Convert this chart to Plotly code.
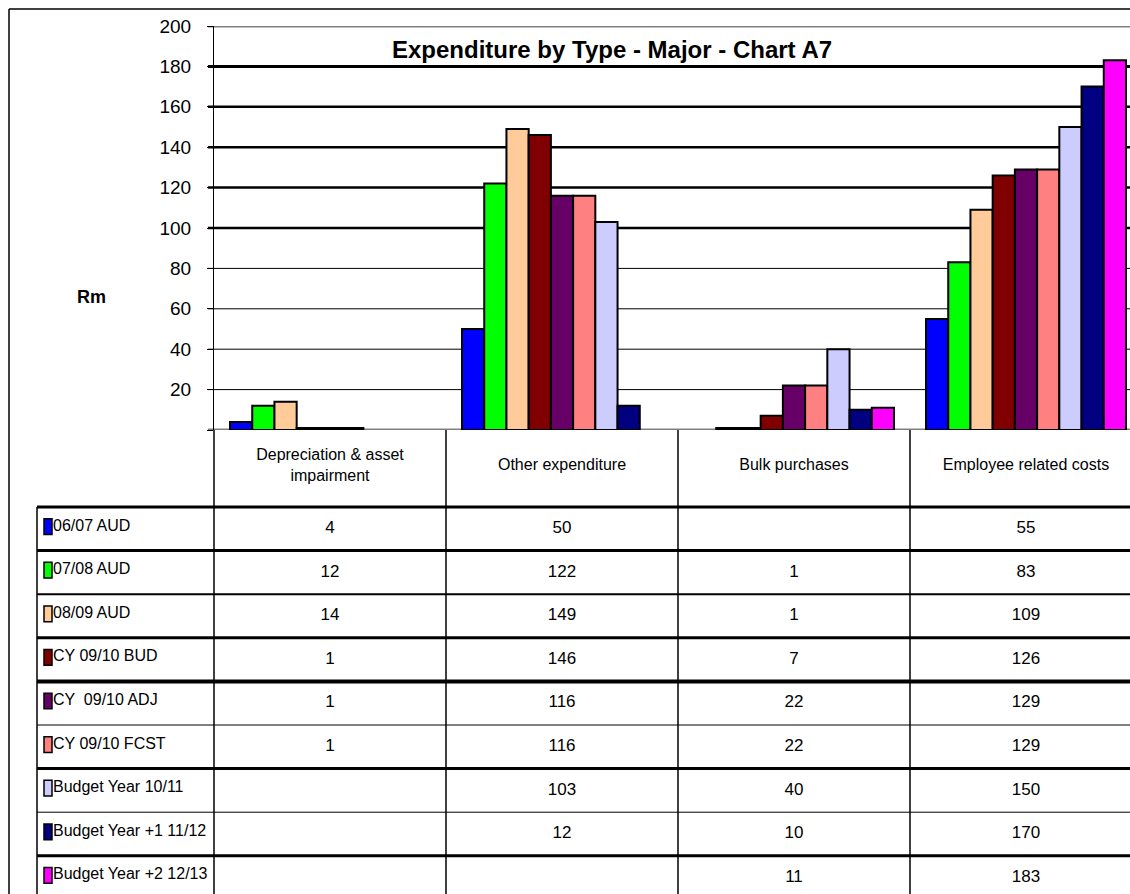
import plotly.graph_objects as go

# ---- data -------------------------------------------------------------
categories = ["Depreciation & asset impairment", "Other expenditure",
              "Bulk purchases", "Employee related costs"]
header_labels = ["Depreciation & asset<br>impairment", "Other expenditure",
                 "Bulk purchases", "Employee related costs"]
series_names = ["06/07 AUD", "07/08 AUD", "08/09 AUD", "CY 09/10 BUD",
                "CY  09/10 ADJ", "CY 09/10 FCST", "Budget Year 10/11",
                "Budget Year +1 11/12", "Budget Year +2 12/13"]

aud_0607 = [4, 50, None, 55]
aud_0708 = [12, 122, 1, 83]
aud_0809 = [14, 149, 1, 109]
bud_0910 = [1, 146, 7, 126]
adj_0910 = [1, 116, 22, 129]
fcst_0910 = [1, 116, 22, 129]
budget_1011 = [None, 103, 40, 150]
budget_1112 = [None, 12, 10, 170]
budget_1213 = [None, None, 11, 183]

series_values = [aud_0607, aud_0708, aud_0809, bud_0910, adj_0910,
                 fcst_0910, budget_1011, budget_1112, budget_1213]

y_tick_values = [0, 20, 40, 60, 80, 100, 120, 140, 160, 180, 200]
y_tick_labels = ["", "20", "40", "60", "80", "100", "120", "140", "160", "180", "200"]

title_text = "Expenditure by Type - Major - Chart A7"
axis_unit = "Rm"

# ---- styling ----------------------------------------------------------
W, H = 1130, 894
FONT = "Liberation Sans, Arial, sans-serif"
colors = ["#0000FF", "#00FF00", "#FFCC99", "#800000", "#660066",
          "#FF8080", "#CCCCFF", "#000080", "#FF00FF"]


def fx(px):
    return px / W


def fy(py):
    return 1 - py / H


# plot area: left edge 214px, top (200) at 26px, baseline at 430px
PLOT_LEFT, PLOT_TOP, PLOT_BOTTOM = 214, 26, 430
CAT_W = 232.0                        # pixels per category
x_right = -0.5 + (W - PLOT_LEFT) / CAT_W

# table: legend column starts at 37px, header 77px, rows 43.6px
TABLE_LEFT = 37
ROW_H = 43.6
HEADER_H = 77.0
t_dom_left = 33
x2_left = -0.5 - (PLOT_LEFT - t_dom_left) / CAT_W
legend_left = -0.5 - (PLOT_LEFT - TABLE_LEFT) / CAT_W
y2_top = -HEADER_H / ROW_H
y2_bottom = (H - PLOT_BOTTOM - HEADER_H) / ROW_H

fig = go.Figure()

for name, vals, col in zip(series_names, series_values, colors):
    fig.add_trace(go.Bar(
        x=categories, y=vals, name=name,
        marker=dict(color=col, line=dict(color="black", width=2)),
        showlegend=False, hoverinfo="skip",
    ))

# ---- data table below the chart --------------------------------------
n_rows = len(series_names)

# column headers
fig.add_trace(go.Scatter(
    x=list(range(len(categories))), y=[y2_top / 2 - 0.05] * len(categories),
    mode="text", text=header_labels, textposition="middle center",
    textfont=dict(family=FONT, size=16, color="black"),
    xaxis="x2", yaxis="y2", showlegend=False, hoverinfo="skip",
    cliponaxis=False,
))

# cell values
cell_x, cell_y, cell_t = [], [], []
for r, vals in enumerate(series_values):
    for c, v in enumerate(vals):
        if v is not None:
            cell_x.append(c)
            cell_y.append(r + 0.5)
            cell_t.append(str(v))
fig.add_trace(go.Scatter(
    x=cell_x, y=cell_y, mode="text", text=cell_t,
    textposition="middle center",
    textfont=dict(family=FONT, size=17, color="black"),
    xaxis="x2", yaxis="y2", showlegend=False, hoverinfo="skip",
    cliponaxis=False,
))

# row labels
label_x = legend_left + 16 / CAT_W
fig.add_trace(go.Scatter(
    x=[label_x] * n_rows, y=[r + 0.45 for r in range(n_rows)],
    mode="text", text=series_names, textposition="middle right",
    textfont=dict(family=FONT, size=16, color="black"),
    xaxis="x2", yaxis="y2", showlegend=False, hoverinfo="skip",
    cliponaxis=False,
))

shapes = []

# legend keys
key_x0 = legend_left + 7 / CAT_W
key_x1 = legend_left + 15 / CAT_W
for r, col in enumerate(colors):
    shapes.append(dict(type="rect", xref="x2", yref="y2",
                       x0=key_x0, x1=key_x1,
                       y0=r + 0.45 - 0.18, y1=r + 0.45 + 0.18,
                       fillcolor=col, line=dict(color="black", width=1.5)))

# horizontal table rules
rule_widths = [3, 3, 2, 3, 4, 1, 3, 1, 3]
for r in range(n_rows):
    shapes.append(dict(type="line", xref="x2", yref="y2",
                       x0=legend_left, x1=x_right + 1, y0=r, y1=r,
                       line=dict(color="black", width=rule_widths[r])))
# vertical table rules
for c in range(len(categories)):
    shapes.append(dict(type="line", xref="x2", yref="y2",
                       x0=c - 0.5, x1=c - 0.5, y0=y2_top, y1=y2_bottom + 1,
                       line=dict(color="black", width=1.5)))
shapes.append(dict(type="line", xref="x2", yref="y2",
                   x0=legend_left, x1=legend_left, y0=0, y1=y2_bottom + 1,
                   line=dict(color="black", width=1.5)))

# horizontal gridlines of the value axis
for v in y_tick_values:
    if v == 0 or v == 200:
        col, w = "#808080", 3
    elif v >= 100:
        col, w = "black", 3 if v == 180 else 2.5
    else:
        col, w = "black", 1
    shapes.append(dict(type="line", xref="paper", yref="y",
                       x0=fx(PLOT_LEFT - 6), x1=1, y0=v, y1=v,
                       layer="below", line=dict(color=col, width=w)))

# outer chart frame
shapes.append(dict(type="line", xref="paper", yref="paper",
                   x0=fx(9), x1=1, y0=fy(9), y1=fy(9),
                   line=dict(color="black", width=1.5)))
shapes.append(dict(type="line", xref="paper", yref="paper",
                   x0=fx(9), x1=fx(9), y0=fy(9), y1=0,
                   line=dict(color="black", width=1.5)))

annotations = [
    dict(text="<b>" + title_text + "</b>", xref="paper", yref="paper",
         x=fx(612), y=fy(50), xanchor="center", yanchor="middle",
         showarrow=False, font=dict(family=FONT, size=24, color="black")),
    dict(text="<b>" + axis_unit + "</b>", xref="paper", yref="paper",
         x=fx(91), y=fy(297), xanchor="center", yanchor="middle",
         showarrow=False, font=dict(family=FONT, size=18, color="black")),
]

fig.update_layout(
    width=W, height=H,
    margin=dict(l=0, r=0, t=0, b=0, pad=0),
    paper_bgcolor="white", plot_bgcolor="rgba(0,0,0,0)",
    barmode="group", bargap=0.138, bargroupgap=0,
    font=dict(family=FONT, color="black"),
    shapes=shapes, annotations=annotations,
    xaxis=dict(domain=[fx(PLOT_LEFT), 1], range=[-0.5, x_right],
               type="category", showticklabels=False, ticks="",
               showgrid=False, zeroline=False, showline=False,
               automargin=False, anchor="y"),
    yaxis=dict(domain=[fy(PLOT_BOTTOM), fy(PLOT_TOP)], range=[0, 200],
               tickvals=y_tick_values, ticktext=y_tick_labels,
               ticks="outside", ticklen=6, tickcolor="black", tickwidth=1,
               ticklabelstandoff=12,
               tickfont=dict(family=FONT, size=19, color="black"),
               showgrid=False, zeroline=False,
               showline=True, linecolor="black", linewidth=1,
               automargin=False, anchor="x"),
    xaxis2=dict(domain=[fx(t_dom_left), 1], range=[x2_left, x_right],
                visible=False, automargin=False, anchor="y2"),
    yaxis2=dict(domain=[0, fy(PLOT_BOTTOM)], range=[y2_bottom, y2_top],
                visible=False, automargin=False, anchor="x2"),
)

fig.write_html("out.html")
